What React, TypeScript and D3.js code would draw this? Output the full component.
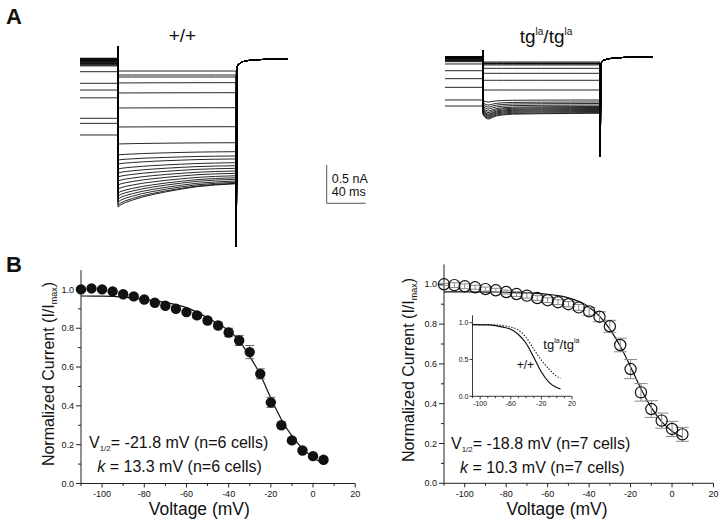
import React from "react";
import * as d3 from "d3";

const FONT = "'Liberation Sans', Arial, Helvetica, sans-serif";

// ---- B: steady-state inactivation, normalized current vs prepulse voltage
const voltages = [-110, -105, -100, -95, -90, -85, -80, -75, -70, -65, -60, -55, -50, -45, -40, -35, -30, -25, -20, -15, -10, -5, 0, 5];
const wtMean = [1.0, 1.005, 1.0, 0.99, 0.975, 0.964, 0.948, 0.931, 0.916, 0.9, 0.883, 0.866, 0.84, 0.814, 0.778, 0.737, 0.677, 0.565, 0.418, 0.3, 0.222, 0.17, 0.141, 0.122];
const wtSem = [0.008, 0.008, 0.008, 0.01, 0.01, 0.01, 0.01, 0.01, 0.012, 0.012, 0.012, 0.015, 0.015, 0.017, 0.022, 0.026, 0.034, 0.026, 0.026, 0.017, 0.012, 0.01, 0.01, 0.008];
const tgMean = [1.0, 0.996, 0.99, 0.985, 0.976, 0.97, 0.961, 0.951, 0.943, 0.931, 0.92, 0.91, 0.9, 0.884, 0.864, 0.837, 0.789, 0.695, 0.574, 0.457, 0.373, 0.315, 0.273, 0.246];
const tgSem = [0.005, 0.012, 0.012, 0.01, 0.01, 0.01, 0.01, 0.012, 0.012, 0.012, 0.012, 0.012, 0.013, 0.015, 0.02, 0.025, 0.03, 0.034, 0.048, 0.044, 0.042, 0.038, 0.038, 0.035];

// Boltzmann fit lines
const fitVolts = [-110, -100, -90, -80, -70, -60, -55, -50, -45, -40, -35, -30, -25, -20, -15, -10, -5, 0, 5];
const wtFit = [0.966, 0.965, 0.96, 0.948, 0.933, 0.906, 0.883, 0.854, 0.823, 0.788, 0.735, 0.655, 0.56, 0.44, 0.33, 0.245, 0.18, 0.135, 0.1];
const tgFit = [0.962, 0.962, 0.961, 0.96, 0.957, 0.95, 0.943, 0.932, 0.914, 0.885, 0.84, 0.775, 0.69, 0.585, 0.475, 0.38, 0.31, 0.262, 0.232];

// inset: both fits overlaid
const insetVolts = [-110, -90, -80, -70, -60, -50, -40, -30, -20, -10, 0, 5];
const insetWt = [0.973, 0.97, 0.96, 0.94, 0.91, 0.84, 0.72, 0.53, 0.33, 0.19, 0.12, 0.1];
const insetTg = [0.973, 0.973, 0.97, 0.96, 0.94, 0.9, 0.8, 0.64, 0.49, 0.37, 0.27, 0.245];

// ---- A: current traces (nA). prepulse level, test pulse start / end
const wtPre = [-0.992, -0.84, -0.774, -0.507, -0.405, -0.317, -0.166, -0.09, -0.08, -0.07, -0.06, -0.055, -0.05, -0.04, -0.035, -0.03, -0.02, -0.015, -0.01, -0.005, 0, 0.005, 0.01];
const wtStart = [-0.157, -0.209, -0.235, -0.313, -0.444, -0.64, -0.888, -1.11, -1.253, -1.319, -1.371, -1.436, -1.488, -1.54, -1.593, -1.645, -1.697, -1.749, -1.789, -1.828, -1.867, -1.906, -1.932];
const wtEnd = [-0.157, -0.209, -0.235, -0.309, -0.44, -0.636, -0.884, -1.093, -1.21, -1.266, -1.305, -1.354, -1.393, -1.427, -1.462, -1.492, -1.524, -1.55, -1.57, -1.593, -1.61, -1.623, -1.629];
const wtDecayT = [0, 3, 8, 15, 25, 35, 50, 65, 80, 100, 121];
const wtDecayF = [1, 0.9, 0.8, 0.7, 0.57, 0.47, 0.34, 0.23, 0.13, 0.05, 0];
const wtTailT = [0.3, 1.3, 2.5, 4, 7, 11, 20, 31, 53];
const wtTailI = [-2.45, -0.1, -0.07, -0.056, -0.035, -0.022, -0.01, -0.004, 0.004];

const tgPre = [-0.64, -0.561, -0.396, -0.283, -0.179, -0.091, -0.061, -0.052, -0.045, -0.039, -0.03, -0.026, -0.02, -0.013, -0.006, 0, 0.004, 0, -0.005, 0.002, -0.01];
const tgPeak = [-0.065, -0.078, -0.085, -0.091, -0.104, -0.148, -0.213, -0.304, -0.431, -0.587, -0.627, -0.653, -0.679, -0.705, -0.725, -0.744, -0.757, -0.77, -0.783, -0.796, -0.81];
const tgEnd = [-0.065, -0.078, -0.085, -0.091, -0.104, -0.148, -0.213, -0.304, -0.431, -0.561, -0.587, -0.607, -0.627, -0.646, -0.659, -0.672, -0.685, -0.698, -0.711, -0.725, -0.735];
const tgDecayT = [0, 1, 3, 5, 7, 10, 14, 20, 30, 60, 90, 120];
const tgDecayF = [0.2, 0.5, 0.85, 1, 0.95, 0.7, 0.45, 0.28, 0.15, 0.07, 0.03, 0];
const tgTailT = [0.3, 0.9, 2, 4, 8, 13, 25, 54];
const tgTailI = [-1.305, -0.09, -0.06, -0.04, -0.025, -0.015, -0.005, 0];

const PRE_END = 39; // ms

type Pt = [number, number];

function tracePts(pre: number, start: number, end: number, cap: number, dT: number[], dF: number[], tT: number[], tI: number[]): Pt[] {
  const pts: Pt[] = [[0, pre], [PRE_END, pre], [PRE_END, cap]];
  dT.forEach((t, k) => pts.push([PRE_END + t, end + (start - end) * dF[k]]));
  const testEnd = PRE_END + dT[dT.length - 1];
  tT.forEach((t, k) => pts.push([testEnd + t, tI[k]]));
  return pts;
}

function Traces({ x0, base, pre, start, end, cap, dT, dF, tT, tI }: any) {
  const x = d3.scaleLinear().domain([0, 213]).range([x0, x0 + 213 * 0.975]);
  const y = d3.scaleLinear().domain([0, -0.5]).range([base, base + 38.3]);
  const line = d3.line<Pt>().x((d) => x(d[0])).y((d) => y(d[1]));
  return (
    <g fill="none" stroke="#000" strokeWidth={0.85}>
      {pre.map((p: number, i: number) => (
        <path key={i} d={line(tracePts(p, start[i], end[i], cap, dT, dF, tT, tI)) || ""} />
      ))}
    </g>
  );
}

function IVPanel({ x, y, mean, sem, fit, open, r, capHalf, errColor, v12, k, vPos, kPos, yLabelPos, xLabelPos }: any) {
  const x0 = x(-110), y0 = y(0);
  const fitLine = d3.line<number>().x((_, i) => x(fitVolts[i])).y((d) => y(d)).curve(d3.curveMonotoneX);
  const xMajor = d3.range(-100, 21, 20);
  const xMinor = d3.range(-110, 21, 20);
  const yMajor = d3.range(0, 1.01, 0.2);
  const yMinor = d3.range(0.1, 1.1, 0.2);
  const fmt = d3.format(".1f");
  return (
    <g fontFamily={FONT} fill="#111">
      {/* axes */}
      <g stroke="#222" strokeWidth={1}>
        <line x1={x0} x2={x(20)} y1={y0} y2={y0} />
        <line x1={x0} x2={x0} y1={y0} y2={y(1.1)} />
        {xMajor.map((v) => <line key={"xM" + v} x1={x(v)} x2={x(v)} y1={y0} y2={y0 + 4} />)}
        {xMinor.map((v) => <line key={"xm" + v} x1={x(v)} x2={x(v)} y1={y0} y2={y0 + 2.5} />)}
        {yMajor.map((v) => <line key={"yM" + v} x1={x0 - 5} x2={x0} y1={y(v)} y2={y(v)} />)}
        {yMinor.map((v) => <line key={"ym" + v} x1={x0 - 3} x2={x0} y1={y(v)} y2={y(v)} />)}
      </g>
      <g fontSize={9} stroke="none">
        {xMajor.map((v) => (
          <text key={"xl" + v} x={x(v)} y={y0 + 13.5} textAnchor="middle">{v}</text>
        ))}
        {yMajor.map((v) => (
          <text key={"yl" + v} x={x0 - 7} y={y(v)} dy="0.35em" textAnchor="end">{fmt(v)}</text>
        ))}
      </g>
      <text transform={`translate(${yLabelPos[0]},${yLabelPos[1]}) rotate(-90)`} textAnchor="middle" fontSize={16}>
        Normalized Current (I/I<tspan fontSize={9} dy={3}>max</tspan><tspan dy={-3}>)</tspan>
      </text>
      <text x={xLabelPos[0]} y={xLabelPos[1]} textAnchor="middle" fontSize={17.5}>Voltage (mV)</text>

      {/* fit */}
      <path d={fitLine(fit) || ""} fill="none" stroke="#111" strokeWidth={1.2} />

      {/* error bars */}
      <g stroke={errColor} strokeWidth={1}>
        {voltages.map((v, i) => {
          const cx = x(v), lo = y(mean[i] - sem[i]), hi = y(mean[i] + sem[i]);
          return (
            <g key={"e" + v}>
              <line x1={cx} x2={cx} y1={lo} y2={hi} />
              <line x1={cx - capHalf} x2={cx + capHalf} y1={lo} y2={lo} />
              <line x1={cx - capHalf} x2={cx + capHalf} y1={hi} y2={hi} />
            </g>
          );
        })}
      </g>
      {/* points */}
      {voltages.map((v, i) => (
        <circle key={"p" + v} cx={x(v)} cy={y(mean[i])} r={r}
          fill={open ? "none" : "#111"} stroke="#111" strokeWidth={open ? 1.2 : 0} />
      ))}

      <text x={vPos[0]} y={vPos[1]} fontSize={16}>
        V<tspan fontSize={8} dy={3}>1/2</tspan><tspan dy={-3}>= {v12} mV (n={k[1]} cells)</tspan>
      </text>
      <text x={kPos[0]} y={kPos[1]} fontSize={16}>
        <tspan fontStyle="italic">k</tspan> = {k[0]} mV (n={k[1]} cells)
      </text>
    </g>
  );
}

function Inset() {
  const x = d3.scaleLinear().domain([-110, 20]).range([472.5, 572]);
  const y = d3.scaleLinear().domain([0, 1.1]).range([396.3, 315.3]);
  const line = d3.line<number>().x((_, i) => x(insetVolts[i])).y((d) => y(d)).curve(d3.curveMonotoneX);
  const x0 = x(-110), y0 = y(0);
  const xLab = [-100, -60, -20, 20];
  const xMinor = d3.range(-110, 21, 10);
  const yLab = [0, 0.5, 1.0];
  return (
    <g fontFamily={FONT} fill="#111">
      <g stroke="#222" strokeWidth={0.9}>
        <line x1={x0} x2={x(20)} y1={y0} y2={y0} />
        <line x1={x0} x2={x0} y1={y0} y2={y(1.1)} />
        {xMinor.map((v) => <line key={v} x1={x(v)} x2={x(v)} y1={y0} y2={y0 + (xLab.includes(v) ? 3 : 1.8)} />)}
        {yLab.map((v) => <line key={"y" + v} x1={x0 - 3} x2={x0} y1={y(v)} y2={y(v)} />)}
      </g>
      <g fontSize={7}>
        {xLab.map((v) => <text key={v} x={x(v)} y={y0 + 10} textAnchor="middle">{v}</text>)}
        {yLab.map((v) => <text key={v} x={x0 - 4} y={y(v)} dy="0.35em" textAnchor="end">{d3.format(".1f")(v)}</text>)}
      </g>
      <path d={line(insetWt) || ""} fill="none" stroke="#111" strokeWidth={1.2} />
      <path d={line(insetTg) || ""} fill="none" stroke="#111" strokeWidth={1.1} strokeDasharray="1.4,1.6" />
      <text x={543.3} y={349.3} fontSize={13}>
        tg<tspan fontSize={7} dy={-6}>la</tspan><tspan dy={6}>/tg</tspan><tspan fontSize={7} dy={-6}>la</tspan>
      </text>
      <text x={516.7} y={369.3} fontSize={12}>+/+</text>
    </g>
  );
}

export default function App() {
  const xL = d3.scaleLinear().domain([-110, 20]).range([81, 355.2]);
  const yL = d3.scaleLinear().domain([0, 1.1]).range([483.5, 270]);
  const xR = d3.scaleLinear().domain([-110, 20]).range([444, 713.5]);
  const yR = d3.scaleLinear().domain([0, 1.1]).range([483.3, 264.4]);

  // scale bar uses the trace scales: 0.5 nA, 40 ms
  const barX = 326.7, barY = 203.3;
  const barH = 0.5 * 76.6, barW = 40 * 0.975;

  return (
    <svg width={720} height={521} style={{ position: "absolute", left: 0, top: 0 }} fontFamily={FONT}>
      <rect width={720} height={521} fill="#fff" />
      <text x={6} y={24} fontSize={22} fontWeight="bold" fill="#111">A</text>
      <text x={6} y={272} fontSize={22} fontWeight="bold" fill="#111">B</text>

      <text x={182.5} y={41.7} fontSize={19} textAnchor="middle" fill="#111">+/+</text>
      <text x={546} y={43.3} fontSize={19} textAnchor="middle" fill="#111">
        tg<tspan fontSize={10} dy={-8}>la</tspan><tspan dy={8}>/tg</tspan><tspan fontSize={10} dy={-8}>la</tspan>
      </text>

      <Traces x0={80} base={59} pre={wtPre} start={wtStart} end={wtEnd} cap={0.16}
        dT={wtDecayT} dF={wtDecayF} tT={wtTailT} tI={wtTailI} />
      <Traces x0={445} base={57} pre={tgPre} start={tgPeak} end={tgEnd} cap={0.09}
        dT={tgDecayT} dF={tgDecayF} tT={tgTailT} tI={tgTailI} />

      <g stroke="#555" strokeWidth={1} fill="none">
        <line x1={barX} x2={barX} y1={barY - barH} y2={barY} />
        <line x1={barX} x2={barX + barW} y1={barY} y2={barY} />
      </g>
      <text x={331.7} y={183.3} fontSize={12.5} fill="#111">0.5 nA</text>
      <text x={331.7} y={196} fontSize={12.5} fill="#111">40 ms</text>

      <IVPanel x={xL} y={yL} mean={wtMean} sem={wtSem} fit={wtFit} open={false} r={5.2} capHalf={4.5}
        errColor="#6a6a6a" v12="-21.8" k={["13.3", 6]} vPos={[89, 447.7]} kPos={[97.3, 471.7]}
        yLabelPos={[53.5, 374]} xLabelPos={[199.3, 515]} />
      <IVPanel x={xR} y={yR} mean={tgMean} sem={tgSem} fit={tgFit} open={true} r={5.6} capHalf={6.5}
        errColor="#8a8a8a" v12="-18.8" k={["10.3", 7]} vPos={[451, 448.5]} kPos={[460, 472.5]}
        yLabelPos={[413.5, 370]} xLabelPos={[557, 514.5]} />
      <Inset />
    </svg>
  );
}
